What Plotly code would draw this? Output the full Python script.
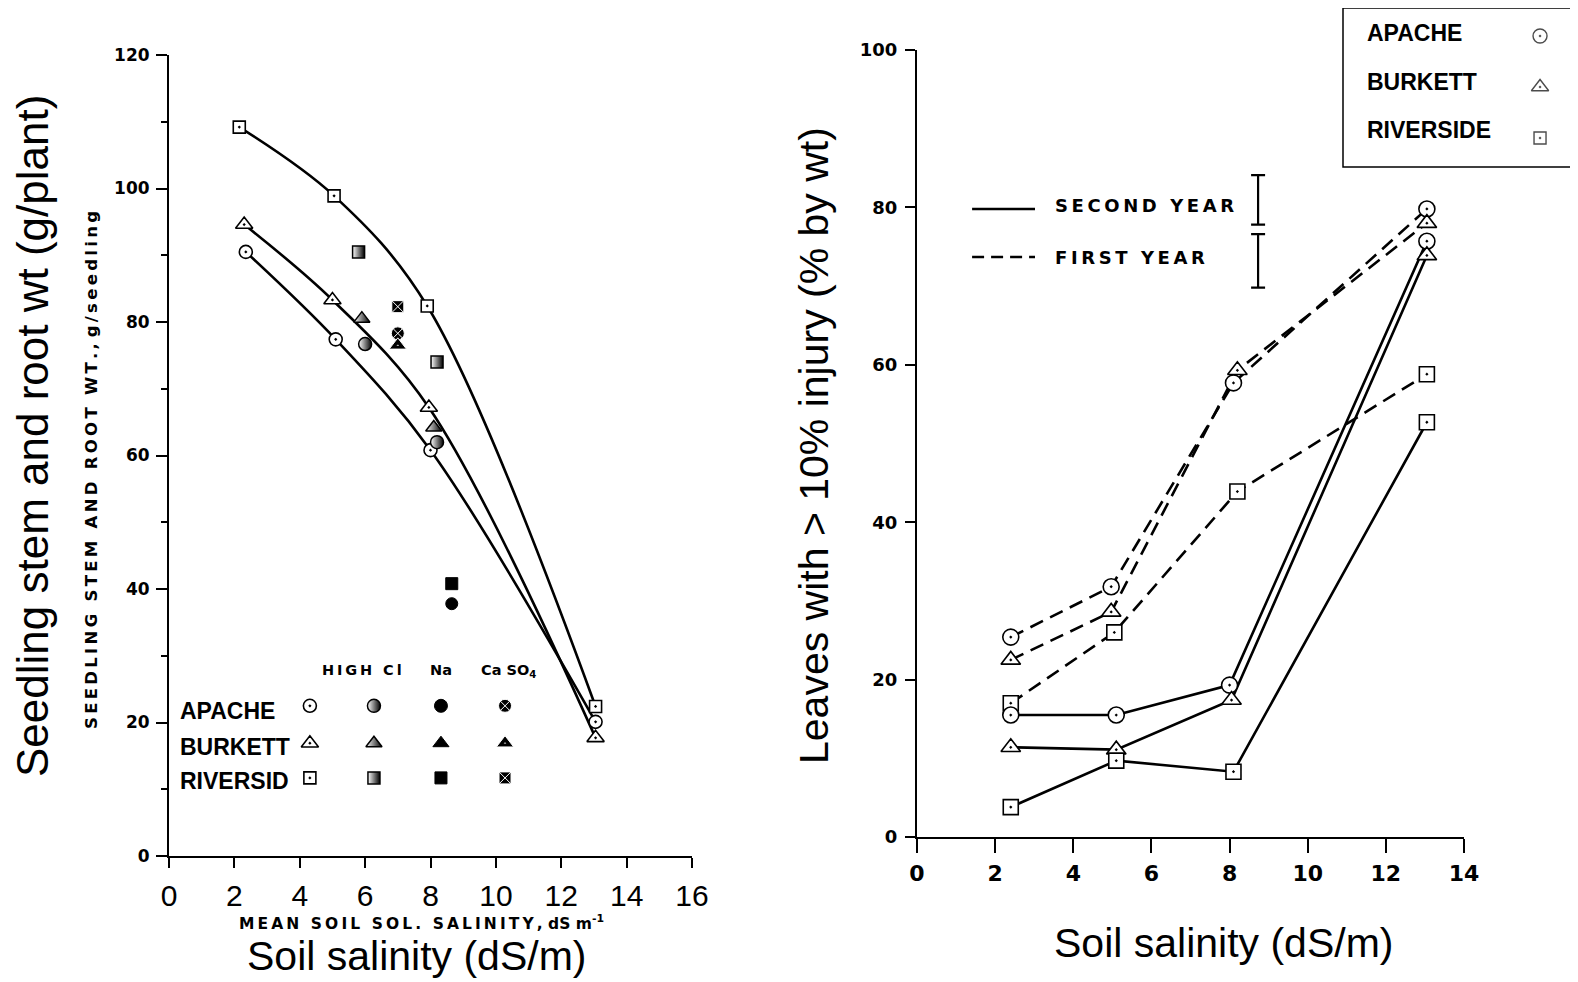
import plotly.graph_objects as go

# page body has an 8px default margin: figure is sized/placed to compensate
OFF = 8
W, H = 1578 - OFF, 982 - OFF

# ---------------- Left panel data (seedling stem + root weight) ----------------
cultivars = ["APACHE", "BURKETT", "RIVERSID"]
apache_x = [2.35, 5.1, 8.0, 13.05]
apache_y = [90.5, 77.4, 60.8, 20.1]
burkett_x = [2.3, 5.0, 7.95, 13.05]
burkett_y = [94.6, 83.3, 67.2, 17.7]
riverside_x = [2.15, 5.05, 7.9, 13.05]
riverside_y = [109.2, 98.9, 82.4, 22.4]

# treatment points
highcl_apache_x = [6.0, 8.2]
highcl_apache_y = [76.7, 62.0]
highcl_burkett_x = [5.9, 8.1]
highcl_burkett_y = [80.5, 64.2]
highcl_riverside_x = [5.8, 8.2]
highcl_riverside_y = [90.5, 74.0]
na_apache_x = [8.65]
na_apache_y = [37.8]
na_riverside_x = [8.65]
na_riverside_y = [40.8]
caso4_apache_x = [7.0]
caso4_apache_y = [78.3]
caso4_burkett_x = [7.0]
caso4_burkett_y = [76.5]
caso4_riverside_x = [7.0]
caso4_riverside_y = [82.3]

left_xticks = [0, 2, 4, 6, 8, 10, 12, 14, 16]
left_yticks = [0, 20, 40, 60, 80, 100, 120]

# ---------------- Right panel data (leaf injury) ----------------
r_apache2_x = [2.4, 5.1, 8.0, 13.05]
r_apache2_y = [15.5, 15.5, 19.3, 75.7]
r_burkett2_x = [2.4, 5.1, 8.05, 13.05]
r_burkett2_y = [11.4, 11.1, 17.4, 73.9]
r_riverside2_x = [2.4, 5.1, 8.1, 13.05]
r_riverside2_y = [3.8, 9.7, 8.3, 52.7]

r_apache1_x = [2.4, 4.97, 8.1, 13.05]
r_apache1_y = [25.4, 31.8, 57.7, 79.8]
r_burkett1_x = [2.4, 4.97, 8.2, 13.05]
r_burkett1_y = [22.5, 28.6, 59.3, 78.0]
r_riverside1_x = [2.4, 5.05, 8.2, 13.05]
r_riverside1_y = [17.0, 26.0, 43.9, 58.8]

lsd_labels = ["SECOND YEAR", "FIRST YEAR"]
lsd_center = [80.95, 73.2]
lsd_half = [3.15, 3.4]

right_xticks = [0, 2, 4, 6, 8, 10, 12, 14]
right_yticks = [0, 20, 40, 60, 80, 100]

legend_names = ["APACHE", "BURKETT", "RIVERSIDE"]

# ---------------- helpers ----------------
def px(x):
    return (x - OFF) / W

def py(y):
    return 1 - (y - OFF) / H

def track(s):
    return "\u2009".join(s)

BIG = "Liberation Sans, Arial, sans-serif"
SCAN = "DejaVu Sans, Verdana, sans-serif"

fig = go.Figure()

open_circle = dict(symbol="circle-dot", color="white", size=13, line=dict(color="black", width=1.6))
open_tri = dict(symbol="triangle-up-dot", color="white", size=15, line=dict(color="black", width=1.6))
open_sq = dict(symbol="square-dot", color="white", size=12, line=dict(color="black", width=1.6))

# left curves
for xs, ys in [(riverside_x, riverside_y), (burkett_x, burkett_y), (apache_x, apache_y)]:
    fig.add_trace(go.Scatter(x=xs, y=ys, mode="lines", line=dict(color="black", width=2.6, shape="spline", smoothing=1.0),
                             xaxis="x", yaxis="y", showlegend=False, hoverinfo="skip"))
for xs, ys, mk in [(riverside_x, riverside_y, open_sq), (burkett_x, burkett_y, open_tri), (apache_x, apache_y, open_circle)]:
    fig.add_trace(go.Scatter(x=xs, y=ys, mode="markers", marker=mk, xaxis="x", yaxis="y", showlegend=False, cliponaxis=False))

half = lambda sym, size: dict(symbol=sym, color="white", size=size, line=dict(color="black", width=1.5),
                              gradient=dict(type="horizontal", color="black"))
full = lambda sym, size: dict(symbol=sym, color="black", size=size, line=dict(color="black", width=1))
dotted = lambda sym, size: dict(symbol=sym, color="black", size=size, line=dict(color="white", width=1))

treat = [
    (highcl_apache_x, highcl_apache_y, half("circle", 13)),
    (highcl_burkett_x, highcl_burkett_y, half("triangle-up", 14)),
    (highcl_riverside_x, highcl_riverside_y, half("square", 12)),
    (na_riverside_x, na_riverside_y, full("square", 12)),
    (na_apache_x, na_apache_y, full("circle", 12)),
    (caso4_apache_x, caso4_apache_y, dotted("circle-x", 13)),
    (caso4_burkett_x, caso4_burkett_y, dotted("triangle-up-dot", 15)),
    (caso4_riverside_x, caso4_riverside_y, dotted("square-x", 12)),
]
for xs, ys, mk in treat:
    fig.add_trace(go.Scatter(x=xs, y=ys, mode="markers", marker=mk, xaxis="x", yaxis="y", showlegend=False))

# in-plot key (left)
key_cols = [4.31, 6.27, 8.32, 10.28]
key_rows = [22.5, 16.9, 11.7]
key_markers = [
    [open_circle, half("circle", 13), full("circle", 13), dotted("circle-x", 13)],
    [open_tri, half("triangle-up", 14), full("triangle-up", 14), dotted("triangle-up-dot", 15)],
    [open_sq, half("square", 12), full("square", 12), dotted("square-x", 12)],
]
for r, row in enumerate(key_markers):
    for c, mk in enumerate(row):
        fig.add_trace(go.Scatter(x=[key_cols[c]], y=[key_rows[r]], mode="markers", marker=mk,
                                 xaxis="x", yaxis="y", showlegend=False))

# right lines
dash = "14px,8px"
for xs, ys in [(r_apache1_x, r_apache1_y), (r_burkett1_x, r_burkett1_y), (r_riverside1_x, r_riverside1_y)]:
    fig.add_trace(go.Scatter(x=xs, y=ys, mode="lines", line=dict(color="black", width=2.6, dash=dash),
                             xaxis="x2", yaxis="y2", showlegend=False))
for xs, ys in [(r_apache2_x, r_apache2_y), (r_burkett2_x, r_burkett2_y), (r_riverside2_x, r_riverside2_y)]:
    fig.add_trace(go.Scatter(x=xs, y=ys, mode="lines", line=dict(color="black", width=2.6),
                             xaxis="x2", yaxis="y2", showlegend=False))
big_c = dict(open_circle, size=16)
big_t = dict(open_tri, size=17)
big_s = dict(open_sq, size=15)
for xs, ys, mk in [(r_apache1_x, r_apache1_y, big_c), (r_burkett1_x, r_burkett1_y, big_t), (r_riverside1_x, r_riverside1_y, big_s),
                   (r_apache2_x, r_apache2_y, big_c), (r_burkett2_x, r_burkett2_y, big_t), (r_riverside2_x, r_riverside2_y, big_s)]:
    fig.add_trace(go.Scatter(x=xs, y=ys, mode="markers", marker=mk, xaxis="x2", yaxis="y2", showlegend=False, cliponaxis=False))

# LSD bars
fig.add_trace(go.Scatter(x=[8.73, 8.73], y=lsd_center, mode="markers", marker=dict(size=1, color="rgba(0,0,0,0)"),
                         error_y=dict(type="data", array=lsd_half, color="black", thickness=2.2, width=7),
                         xaxis="x2", yaxis="y2", showlegend=False))

# right legend box: key axis (x4/y4) spanning the box
legend_rows = [0, 1, 2]
fig.add_trace(go.Scatter(x=[0.794, 0.794, 0.794], y=legend_rows, mode="markers",
                         marker=dict(symbol=["circle-dot", "triangle-up-dot", "square-dot"], color="white", size=[14, 15, 12],
                                     line=dict(color="black", width=1.4)),
                         xaxis="x4", yaxis="y4", showlegend=False, cliponaxis=False))

# ---------------- layout ----------------
axis_common = dict(showgrid=False, zeroline=False, showline=True, linecolor="black", linewidth=2,
                   ticks="outside", tickcolor="black", tickwidth=2)
hidden = dict(visible=False, showgrid=False, zeroline=False, fixedrange=True)

fig.update_layout(
    width=W, height=H, margin=dict(l=0, r=0, t=0, b=0, pad=0, autoexpand=False),
    paper_bgcolor="white", plot_bgcolor="white", showlegend=False,
    xaxis=dict(axis_common, domain=[px(169), px(692)], range=[0, 16], anchor="y", tickvals=left_xticks,
               ticklen=10, tickfont=dict(family=BIG, size=30, color="black"), ticklabelstandoff=2),
    yaxis=dict(axis_common, domain=[py(856), py(55)], range=[0, 120], anchor="x", tickvals=left_yticks,
               ticklen=11, minor=dict(dtick=10, ticklen=6, tickwidth=2, tickcolor="black", ticks="outside"),
               tickfont=dict(family=SCAN, size=17, color="black", weight="bold"), ticklabelstandoff=3),
    yaxis3=dict(axis_common, overlaying="y", side="right", anchor="x", range=[0, 120], tickvals=left_yticks,
                ticklen=14, showticklabels=False,
                minor=dict(dtick=10, ticklen=8, tickwidth=2, tickcolor="black", ticks="outside")),
    xaxis2=dict(axis_common, domain=[px(917), px(1464)], range=[0, 14], anchor="y2", tickvals=right_xticks,
                ticklen=14, tickfont=dict(family=SCAN, size=22, color="black", weight="bold"), ticklabelstandoff=2),
    yaxis2=dict(axis_common, domain=[py(837), py(50)], range=[0, 100], anchor="x2", tickvals=right_yticks,
                ticklen=10, tickfont=dict(family=SCAN, size=18, color="black", weight="bold"), ticklabelstandoff=4),
    xaxis4=dict(hidden, domain=[px(1343), 1.0], range=[0, 0.947], anchor="y4"),
    yaxis4=dict(hidden, domain=[py(167), 1.0], range=[2.569, -0.549], anchor="x4"),
)

ann = []
def A(text, x, y, size, family=BIG, bold=False, angle=0, xanchor="center", yanchor="middle"):
    ann.append(dict(text=text, x=px(x), y=py(y), xref="paper", yref="paper", showarrow=False,
                    textangle=angle, xanchor=xanchor, yanchor=yanchor,
                    font=dict(family=family, size=size, color="black", weight="bold" if bold else "normal")))

# left titles
A("Seedling stem and root wt (g/plant)", 33, 436, 44, angle=-90)
A(track("SEEDLING STEM AND ROOT WT.,") + " " + track("g/seedling"), 91, 470, 16.5, family=SCAN, bold=True, angle=-90)
A(track("MEAN SOIL SOL. SALINITY,") + " dS m<sup>-1</sup>", 421, 922, 15.5, family=SCAN, bold=True)
A("Soil salinity (dS/m)", 416, 956, 41)
# left key labels
for name, yy in zip(cultivars, [711, 747, 781]):
    A(name, 178, yy, 23, bold=True, xanchor="left")
A(track("HIGH Cl"), 362, 670, 14.5, family=SCAN, bold=True)
A("Na", 441, 670, 14.5, family=SCAN, bold=True)
A("Ca SO<sub>4</sub>", 508, 671, 14.5, family=SCAN, bold=True)

# right titles
A("Leaves with > 10% injury (% by wt)", 814, 446, 41, angle=-90)
A("Soil salinity (dS/m)", 1223, 943, 41)
A(track("SECOND YEAR"), 1053, 206, 18, family=SCAN, bold=True, xanchor="left")
A(track("FIRST YEAR"), 1053, 257, 18, family=SCAN, bold=True, xanchor="left")
for name, yy in zip(legend_names, [33, 82, 130]):
    A(name, 1365, yy, 23, bold=True, xanchor="left")

fig.update_layout(annotations=ann)

shapes = [
    dict(type="line", xref="x2", yref="y2", x0=1.41, x1=3.02, y0=79.8, y1=79.8, line=dict(color="black", width=2.4)),
    dict(type="line", xref="x2", yref="y2", x0=1.41, x1=3.02, y0=73.7, y1=73.7, line=dict(color="black", width=2.4, dash="12px,7px")),
    dict(type="rect", xref="paper", yref="paper", x0=px(1343), x1=px(1600), y0=py(167), y1=py(8),
         line=dict(color="black", width=1.5), fillcolor="rgba(0,0,0,0)"),
]
fig.update_layout(shapes=shapes)

fig.write_html("out.html")
